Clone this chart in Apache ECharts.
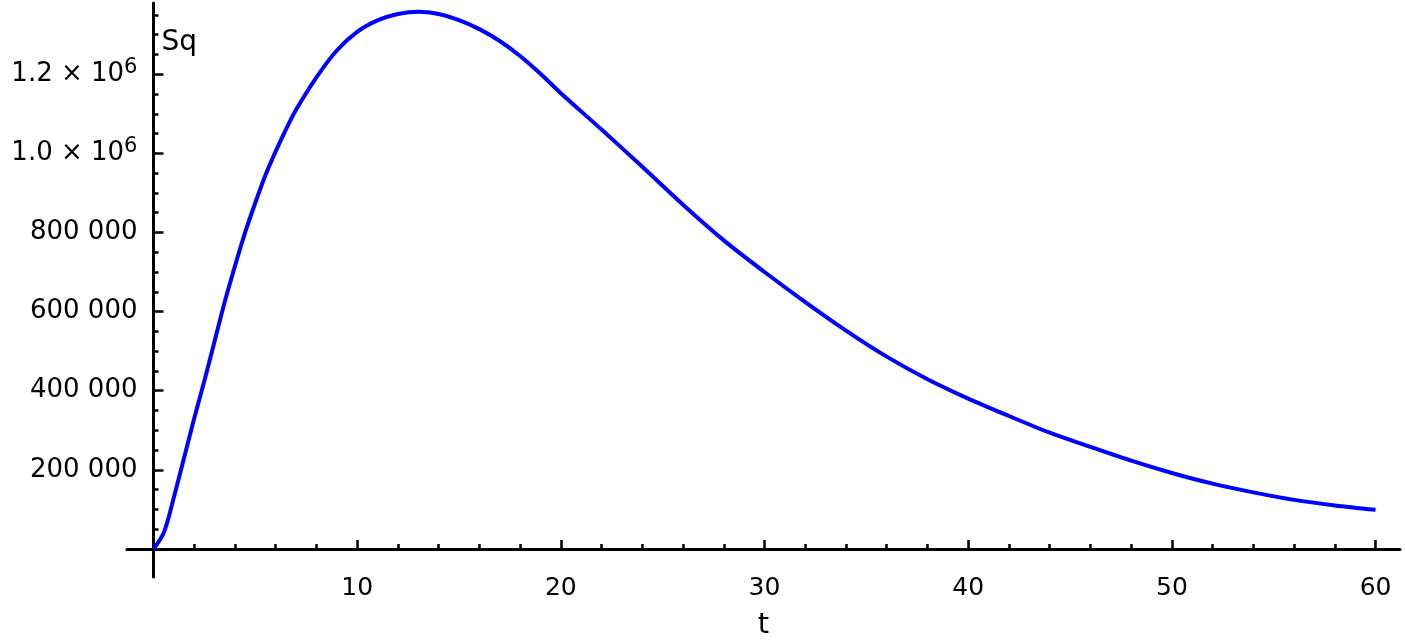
<!DOCTYPE html>
<html>
<head>
<meta charset="utf-8">
<script src="https://cdn.jsdelivr.net/npm/echarts@6/dist/echarts.min.js"></script>
<style>
  html, body { margin: 0; padding: 0; background: #fff; }
  #chart { width: 1405px; height: 644px; }
</style>
</head>
<body>
<div id="chart"></div>
<script>
// t values and Sq values
const tValues = [0, 0.5, 1, 1.5, 2, 2.5, 3, 3.5, 4, 4.5, 5, 5.5, 6, 6.5, 7, 8, 9, 10, 11, 12, 13, 14, 15, 16, 17, 18, 19, 20,
  22, 24, 26, 28, 30, 32, 34, 36, 38, 40, 42, 44, 46, 48, 50, 52, 54, 56, 58, 60];
const sqValues = [0, 40000, 130000, 230000, 330000, 425000, 525000, 625000, 715000, 800000, 875000, 945000, 1005000, 1060000, 1110000,
  1192000, 1260000, 1307000, 1336000, 1352000, 1358000, 1352000, 1337000, 1314000, 1284000, 1246000, 1201000, 1152000,
  1060000, 966000, 870000, 780000, 700000, 624000, 552000, 486000, 429000, 380000, 336000, 294000, 258000, 223000,
  192000, 165000, 143000, 124000, 110000, 99000];

const xMajorTicks = [10, 20, 30, 40, 50, 60];
const xMinorTicks = [2, 4, 6, 8, 12, 14, 16, 18, 22, 24, 26, 28, 32, 34, 36, 38, 42, 44, 46, 48, 52, 54, 56, 58];
const yMajorTicks = [200000, 400000, 600000, 800000, 1000000, 1200000];
const yMinorTicks = [50000, 100000, 150000, 250000, 300000, 350000, 450000, 500000, 550000, 650000, 700000, 750000,
  850000, 900000, 950000, 1050000, 1100000, 1150000, 1250000, 1300000, 1350000];

const xMin = -1.3, xMax = 61.2;
const yMin = -71000, yMax = 1380000;

const gridLeft = 127, gridRight = 5, gridTop = 3, gridBottom = 67;
const gridW = 1405 - gridLeft - gridRight;
const gridH = 644 - gridTop - gridBottom;
// shift axes so they cross at (0, 0)
const yAxisShift = -(0 - xMin) / (xMax - xMin) * gridW;
const xAxisShift = -(0 - yMin) / (yMax - yMin) * gridH;

const font = 'DejaVu Sans';
const axisColor = '#000';

const chart = echarts.init(document.getElementById('chart'));

const yLabel = (v) => {
  if (v >= 1000000) {
    return '{m|' + (v / 1000000).toFixed(1) + ' × 10}{e|6}';
  }
  return '{m|' + String(v).replace(/\B(?=(\d{3})+$)/g, ' ') + '}';
};

const option = {
  animation: false,
  backgroundColor: '#fff',
  grid: {
    left: gridLeft, right: gridRight, top: gridTop, bottom: gridBottom,
    containLabel: false,
    outerBoundsMode: 'none'
  },
  xAxis: [
    {
      type: 'value',
      min: xMin,
      max: xMax,
      position: 'bottom',
      offset: xAxisShift,
      name: 't',
      nameLocation: 'middle',
      nameGap: 62,
      nameTextStyle: { fontFamily: font, fontSize: 29, color: axisColor },
      axisLine: { onZero: false, lineStyle: { color: axisColor, width: 3 } },
      axisTick: { inside: true, length: 9, customValues: xMajorTicks, lineStyle: { color: axisColor, width: 2.5 } },
      axisLabel: { customValues: xMajorTicks, margin: 27, fontFamily: font, fontSize: 25, color: axisColor },
      splitLine: { show: false }
    },
    {
      type: 'value',
      min: xMin,
      max: xMax,
      position: 'bottom',
      offset: xAxisShift,
      axisLine: { show: false, onZero: false },
      axisTick: { inside: true, length: 5, customValues: xMinorTicks, lineStyle: { color: axisColor, width: 2.5 } },
      axisLabel: { show: false },
      splitLine: { show: false }
    }
  ],
  yAxis: [
    {
      type: 'value',
      min: yMin,
      max: yMax,
      position: 'left',
      offset: yAxisShift,
      name: 'Sq',
      nameLocation: 'end',
      nameGap: -40,
      nameTextStyle: { fontFamily: font, fontSize: 28, color: axisColor, align: 'left', verticalAlign: 'middle', padding: [0, 0, 0, 8] },
      axisLine: { onZero: false, lineStyle: { color: axisColor, width: 3 } },
      axisTick: { inside: true, length: 10, customValues: yMajorTicks, lineStyle: { color: axisColor, width: 2.5 } },
      axisLabel: {
        customValues: yMajorTicks,
        margin: 16,
        color: axisColor,
        formatter: yLabel,
        rich: {
          m: { fontFamily: font, fontSize: 26, color: axisColor },
          e: { fontFamily: font, fontSize: 21, color: axisColor, padding: [0, 0, 14, 0] }
        }
      },
      splitLine: { show: false }
    },
    {
      type: 'value',
      min: yMin,
      max: yMax,
      position: 'left',
      offset: yAxisShift,
      axisLine: { show: false, onZero: false },
      axisTick: { inside: true, length: 5, customValues: yMinorTicks, lineStyle: { color: axisColor, width: 2.5 } },
      axisLabel: { show: false },
      splitLine: { show: false }
    }
  ],
  series: [
    {
      type: 'line',
      xAxisIndex: 0,
      yAxisIndex: 0,
      data: tValues.map((t, i) => [t, sqValues[i]]),
      smooth: 0.3,
      showSymbol: false,
      lineStyle: { color: '#0000ff', width: 4 }
    }
  ]
};

chart.setOption(option);
</script>
</body>
</html>
